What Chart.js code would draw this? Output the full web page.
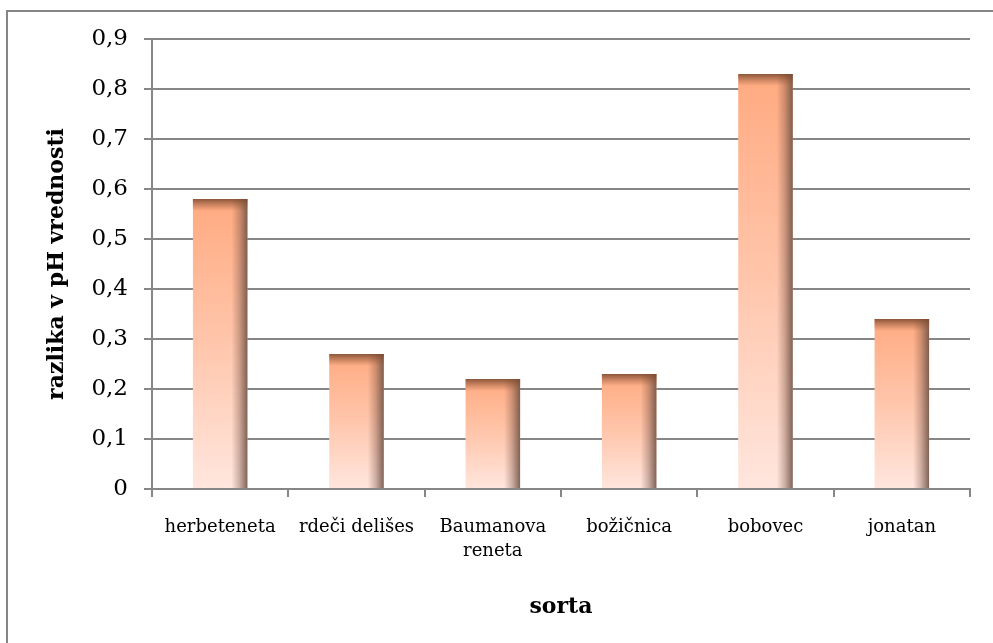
<!DOCTYPE html>
<html>
<head>
<meta charset="utf-8">
<title>razlika v pH vrednosti</title>
<script src="https://cdn.jsdelivr.net/npm/chart.js@4/dist/chart.umd.min.js"></script>
<style>
  html, body { margin: 0; padding: 0; background: #fff; }
  canvas { display: block; }
</style>
</head>
<body>
<canvas id="c" width="993" height="643"></canvas>
<script>
// apple varieties and the measured pH difference for each
const categories = ['herbeteneta', 'rdeči delišes', ['Baumanova', 'reneta'], 'božičnica', 'bobovec', 'jonatan'];
const phDifference = [0.58, 0.27, 0.22, 0.23, 0.83, 0.34];
const yTickLabels = ['0', '0,1', '0,2', '0,3', '0,4', '0,5', '0,6', '0,7', '0,8', '0,9'];

const GRID = '#868686';
const SERIF = '"DejaVu Serif", "Liberation Serif", serif';

// vertical peach gradient running from each bar's top down to the baseline
function barFill(ctx) {
  const chart = ctx.chart;
  if (!chart.chartArea || ctx.parsed === undefined) return '#FFC4A6';
  const ys = chart.scales.y;
  const top = ys.getPixelForValue(ctx.parsed.y);
  const base = ys.getPixelForValue(0);
  const g = chart.ctx.createLinearGradient(0, top, 0, base);
  g.addColorStop(0, '#FFAA80');
  g.addColorStop(0.5, '#FFC6AC');
  g.addColorStop(1, '#FFE6DE');
  return g;
}

// outer frame around the whole figure
const framePlugin = {
  id: 'frame',
  beforeDraw(chart) {
    const c = chart.ctx;
    c.save();
    c.fillStyle = '#fff';
    c.fillRect(0, 0, chart.width, chart.height);
    c.strokeStyle = GRID;
    c.lineWidth = 2;
    c.beginPath();
    c.moveTo(7, chart.height + 5);
    c.lineTo(7, 11);
    c.lineTo(chart.width + 5, 11);
    c.stroke();
    c.restore();
  }
};

// darker bevel on the top edge and right side of every bar
const bevelPlugin = {
  id: 'bevel',
  afterDatasetsDraw(chart) {
    const c = chart.ctx;
    chart.getDatasetMeta(0).data.forEach(bar => {
      const p = bar.getProps(['x', 'y', 'base', 'width'], true);
      const left = p.x - p.width / 2;
      const right = p.x + p.width / 2;
      const h = p.base - p.y;
      c.save();
      // right side shade
      const side = 16;
      const gs = c.createLinearGradient(right - side, 0, right, 0);
      gs.addColorStop(0, 'rgba(110,75,60,0)');
      gs.addColorStop(0.5, 'rgba(110,75,60,0.35)');
      gs.addColorStop(1, 'rgba(105,78,68,0.85)');
      c.fillStyle = gs;
      c.fillRect(right - side, p.y, side, h);
      // top edge shade
      const topH = Math.min(12, h);
      const gt = c.createLinearGradient(0, p.y, 0, p.y + topH);
      gt.addColorStop(0, 'rgba(120,72,45,0.85)');
      gt.addColorStop(1, 'rgba(150,90,60,0)');
      c.fillStyle = gt;
      c.fillRect(left, p.y, p.width, topH);
      c.restore();
    });
  }
};

new Chart(document.getElementById('c'), {
  type: 'bar',
  data: {
    labels: categories,
    datasets: [{
      data: phDifference,
      backgroundColor: barFill,
      borderWidth: 0,
      categoryPercentage: 1.0,
      barPercentage: 0.4
    }]
  },
  options: {
    responsive: false,
    animation: false,
    devicePixelRatio: 1,
    layout: { padding: { top: 39, right: 23, left: 0, bottom: 0 } },
    plugins: {
      legend: { display: false },
      tooltip: { enabled: false }
    },
    scales: {
      x: {
        afterFit(scale) { scale.height = 154; },
        grid: {
          offset: true,
          drawOnChartArea: false,
          drawTicks: true,
          tickLength: 8,
          color: GRID,
          lineWidth: 2
        },
        border: { display: true, color: GRID, width: 2 },
        ticks: {
          color: '#000',
          padding: 18,
          maxRotation: 0,
          autoSkip: false,
          font: { family: SERIF, size: 18, lineHeight: 1.35 }
        },
        title: {
          display: true,
          text: 'sorta',
          color: '#000',
          font: { family: SERIF, size: 22, weight: 'bold' },
          padding: { top: 0, bottom: 23 }
        }
      },
      y: {
        min: 0,
        max: 0.9,
        afterFit(scale) { scale.width = 152; },
        grid: {
          drawTicks: true,
          tickLength: 8,
          color: GRID,
          lineWidth: 2
        },
        border: { display: true, color: GRID, width: 2 },
        ticks: {
          stepSize: 0.1,
          color: '#000',
          padding: 16,
          font: { family: SERIF, size: 23 },
          callback: (v, i) => yTickLabels[i]
        },
        title: {
          display: true,
          text: 'razlika v pH vrednosti',
          color: '#000',
          font: { family: SERIF, size: 22, weight: 'bold' },
          padding: { top: 44, bottom: 0 }
        }
      }
    }
  },
  plugins: [framePlugin, bevelPlugin]
});
</script>
</body>
</html>
